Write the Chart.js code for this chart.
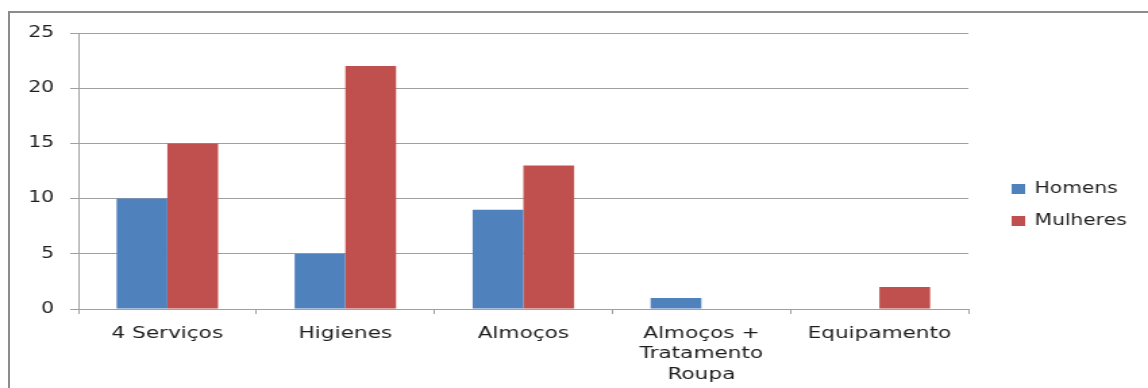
<!DOCTYPE html>
<html>
<head>
<meta charset="utf-8">
<script src="https://cdn.jsdelivr.net/npm/chart.js@4"></script>
<style>
  html, body { margin: 0; padding: 0; background: #fff; overflow: hidden; }
  body { width: 1148px; height: 388px; position: relative; }
  #frame {
    position: absolute; left: 8px; top: 11px; width: 1300px; height: 500px;
    border: 2px solid #8c8c8c; box-sizing: border-box;
  }
  #wrap {
    position: absolute; left: 0; top: 0; width: 850px; height: 388px;
    transform: scaleX(1.3506); transform-origin: 0 0;
  }
</style>
</head>
<body>
<div id="frame"></div>
<div id="wrap"><canvas id="c"></canvas></div>
<script>
const categories = ['4 Serviços', 'Higienes', 'Almoços', ['Almoços +', 'Tratamento', 'Roupa'], 'Equipamento'];
const seriesNames = ['Homens', 'Mulheres'];
const homens = [10, 5, 9, 1, 0];
const mulheres = [15, 22, 13, 0, 2];
const yTicks = [0, 5, 10, 15, 20, 25];
const colors = ['#4F81BD', '#C0504D'];

const FONT = 'DejaVu Sans';

// Legend drawn at the right, beside the plot
const sideLegend = {
  id: 'sideLegend',
  afterDraw(chart) {
    const ctx = chart.ctx;
    ctx.save();
    ctx.font = '15px "' + FONT + '"';
    ctx.textBaseline = 'middle';
    chart.data.datasets.forEach((ds, i) => {
      const cy = 189 + i * 32;
      ctx.fillStyle = ds.backgroundColor;
      ctx.fillRect(749, cy - 5, 10, 10);
      ctx.fillStyle = '#1e1e1e';
      ctx.fillText(ds.label, 766, cy);
    });
    ctx.restore();
  }
};

new Chart(document.getElementById('c'), {
  type: 'bar',
  data: {
    labels: categories,
    datasets: [
      { label: seriesNames[0], data: homens, backgroundColor: colors[0] },
      { label: seriesNames[1], data: mulheres, backgroundColor: colors[1] }
    ]
  },
  options: {
    responsive: true,
    maintainAspectRatio: false,
    animation: false,
    devicePixelRatio: 1,
    layout: { padding: { top: 33, right: 133, left: 0, bottom: 0 } },
    datasets: { bar: { categoryPercentage: 0.57, barPercentage: 1.0, borderWidth: 0 } },
    plugins: { legend: { display: false }, tooltip: { enabled: false } },
    scales: {
      x: {
        grid: { display: true, drawOnChartArea: false, drawTicks: true, tickLength: 5, color: '#a0a0a0', offset: true },
        border: { display: true, color: '#a0a0a0', width: 1 },
        ticks: { color: '#1e1e1e', font: { family: FONT, size: 16, lineHeight: 1.3 }, padding: 9, maxRotation: 0, autoSkip: false },
        afterFit(scale) { scale.height = 79; }
      },
      y: {
        min: 0, max: 25,
        afterBuildTicks(scale) { scale.ticks = yTicks.map(v => ({ value: v })); },
        grid: { color: '#a0a0a0', tickLength: 6, lineWidth: 1 },
        border: { display: true, color: '#a0a0a0', width: 1 },
        ticks: { color: '#1e1e1e', font: { family: FONT, size: 15 }, padding: 12 },
        afterFit(scale) { scale.width = 58; }
      }
    }
  },
  plugins: [sideLegend]
});
</script>
</body>
</html>
